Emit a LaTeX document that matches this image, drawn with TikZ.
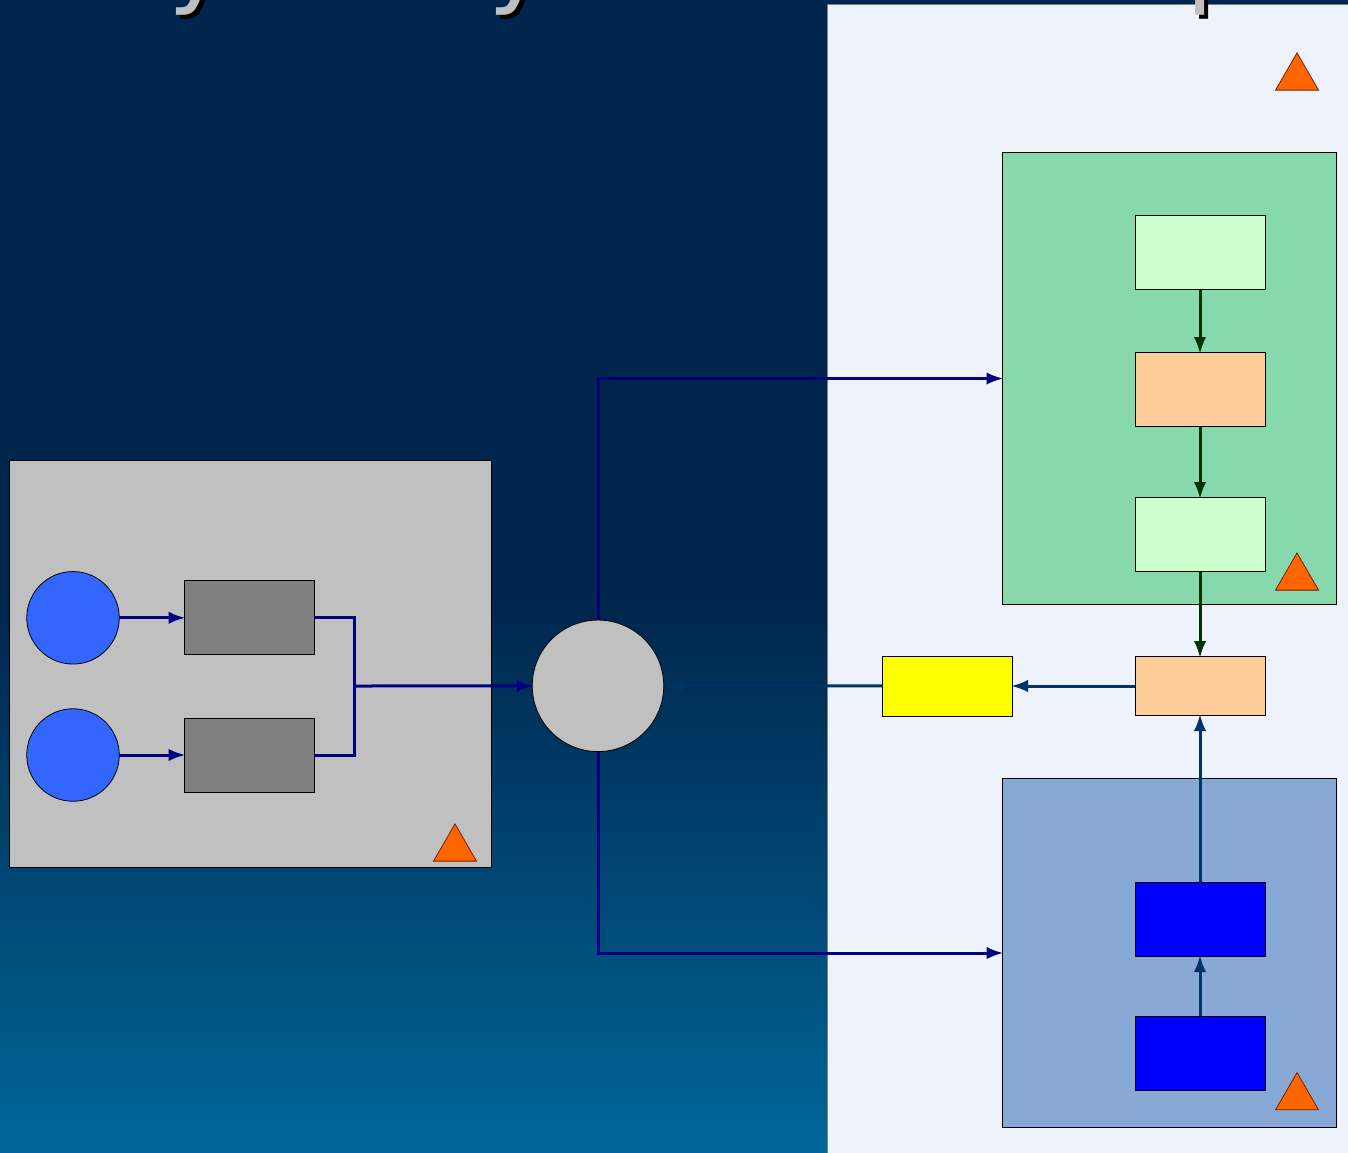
\documentclass[tikz,border=0pt]{standalone}
\usepackage{fontspec}
\setmainfont{DejaVu Sans}
\usetikzlibrary{arrows.meta,shapes.geometric}
\definecolor{nightblue}{HTML}{00264D}
\definecolor{midblue}{HTML}{004C76}
\definecolor{seablue}{HTML}{006699}
\definecolor{paperblue}{HTML}{EEF2FA}
\definecolor{silvergrey}{HTML}{C0C0C0}
\definecolor{midgrey}{HTML}{808080}
\definecolor{greenbay}{HTML}{88D8AE}
\definecolor{bluebay}{HTML}{88A8D5}
\definecolor{mintbox}{HTML}{CCFFCC}
\definecolor{peachbox}{HTML}{FFCC99}
\definecolor{relayyellow}{RGB}{255,255,0}
\definecolor{feedblue}{RGB}{0,0,255}
\definecolor{sourceblue}{HTML}{3366FF}
\definecolor{warnorange}{HTML}{FF6600}
\definecolor{warnedge}{HTML}{801A00}
\definecolor{darkgreen}{HTML}{003300}
\definecolor{linkblue}{HTML}{003366}
\definecolor{navycolor}{HTML}{000080}
\tikzset{
    bay/.style={draw, rectangle, inner sep=0pt, outer sep=0pt, line width=0.8pt},
    unit/.style={bay, minimum width=130pt, minimum height=74pt},
    source/.style={draw, circle, fill=sourceblue, inner sep=0pt, outer sep=0pt, minimum size=92.5pt, line width=0.8pt},
    warn/.style={draw=warnedge, fill=warnorange, regular polygon, regular polygon sides=3, inner sep=0pt, minimum size=49.6pt, line width=0.8pt},
    titlechar/.style={anchor=base, inner sep=0pt, font=\fontsize{100}{100}\selectfont},
    tipped/.style={line width=3pt, shorten >=-1.5pt, -{Latex[length=17pt,width=12.5pt]}},
    navyarrow/.style={draw=navycolor, tipped},
    navypipe/.style={draw=navycolor, line width=3pt},
    greenarrow/.style={draw=darkgreen, tipped},
    linkarrow/.style={draw=linkblue, tipped}
}
\begin{document}
\begin{tikzpicture}[x=1pt, y=-1pt]
    \useasboundingbox (0,0) rectangle (1348,1152);

    % Backdrop
    \fill[nightblue] (0,0) rectangle (1348,1152);
    \shade[top color=nightblue, middle color=midblue, bottom color=seablue] (0,600) rectangle (827,1152);
    \draw[fill=paperblue, draw=gray, line width=0.8pt] (827,4) rectangle (1349,1153);

    % Cut off title
    \foreach \glyph/\x in {y/198.5, y/518.5, p/1218.6} {
        \node[titlechar, text=black] at (\x+4,-2) {\glyph};
        \node[titlechar, text=silvergrey] at (\x,-6) {\glyph};
    }

    % Bays
    \node[bay, fill=silvergrey, minimum width=482pt, minimum height=407pt] (leftbay) at (250.5,664) {};
    \node[bay, fill=greenbay, minimum width=334pt, minimum height=452pt] (greenbay) at (1169,378.5) {};
    \node[bay, fill=bluebay, minimum width=334pt, minimum height=349pt] (bluebay) at (1169,953) {};

    % Left side
    \node[source] (sourcea) at (73,617.8) {};
    \node[source] (sourceb) at (73,755) {};
    \node[unit, fill=midgrey] (gatea) at (249,617.8) {};
    \node[unit, fill=midgrey] (gateb) at (249,755) {};
    \coordinate (merge) at (354,686);
    \node[draw, circle, fill=silvergrey, inner sep=0pt, outer sep=0pt, minimum size=131.5pt, line width=0.8pt] (hub) at (598,685.8) {};

    % Right side
    \node[unit, fill=mintbox] (stagea) at (1200,252.5) {};
    \node[unit, fill=peachbox] (stageb) at (1200,389.5) {};
    \node[unit, fill=mintbox] (stagec) at (1200,534.5) {};
    \node[unit, fill=peachbox, minimum height=59pt] (collect) at (1200,686) {};
    \node[unit, fill=relayyellow, minimum height=60pt] (relay) at (947.5,686) {};
    \node[unit, fill=feedblue] (feeda) at (1200,919.5) {};
    \node[unit, fill=feedblue] (feedb) at (1200,1053) {};

    % Warning marks
    \foreach \name/\x/\y in {warnpage/1297/77.7, warngreen/1297/577.7, warnblue/1297/1097.4, warnleft/455/848.7} {
        \node[warn] (\name) at (\x,\y) {};
    }

    % Connectors
    \draw[navyarrow] (sourcea) -- (gatea);
    \draw[navyarrow] (sourceb) -- (gateb);
    \draw[navypipe] (gatea) -| (merge);
    \draw[navypipe] (gateb) -| (merge);
    \draw[navyarrow] (merge) -- (hub);
    \draw[navyarrow] (hub) |- (greenbay);
    \draw[navyarrow] (hub) |- (bluebay);
    \draw[greenarrow] (stagea) -- (stageb);
    \draw[greenarrow] (stageb) -- (stagec);
    \draw[greenarrow] (stagec) -- (collect);
    \draw[linkarrow] (collect) -- (relay);
    \draw[linkarrow, shorten >=2pt] (relay) -- (hub);
    \draw[linkarrow] (feeda) -- (collect);
    \draw[linkarrow] (feedb) -- (feeda);
\end{tikzpicture}
\end{document}
